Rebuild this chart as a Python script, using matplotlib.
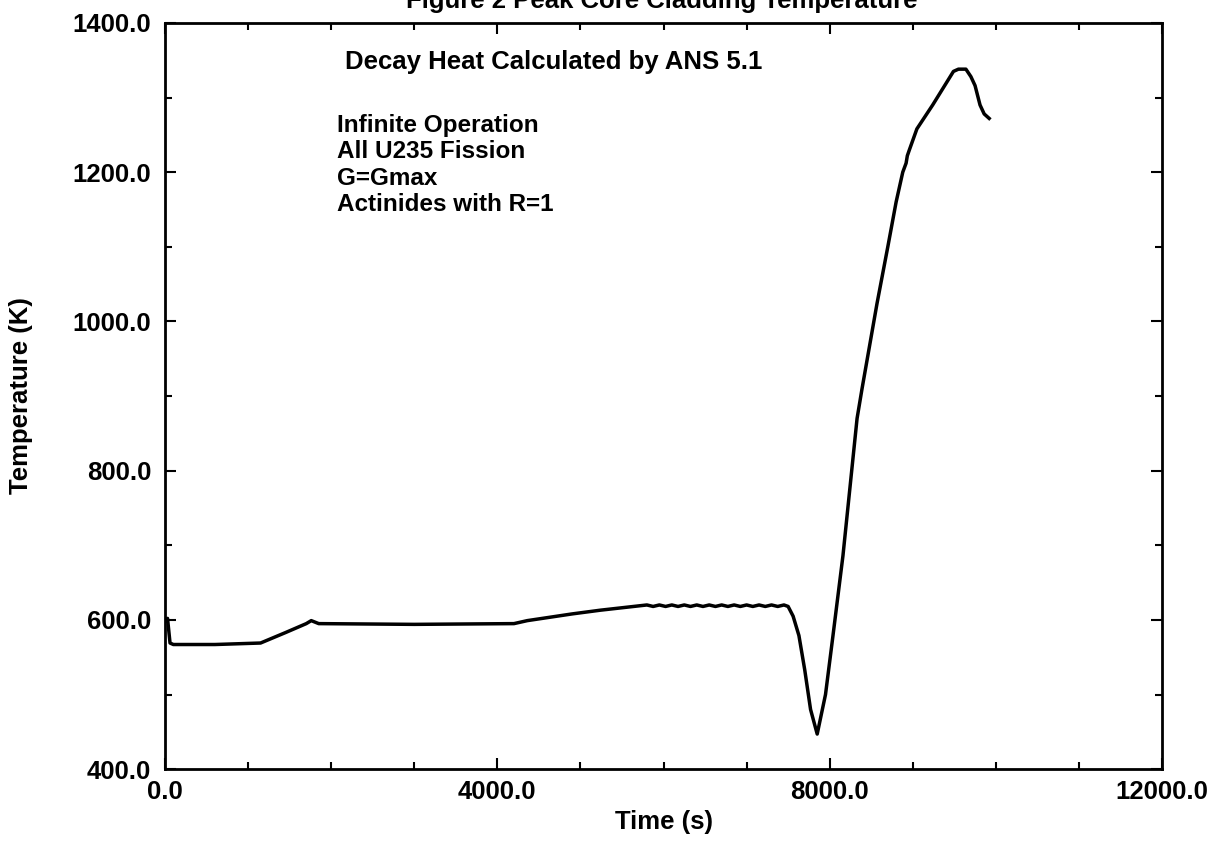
import matplotlib
matplotlib.use("Agg")
import matplotlib.pyplot as plt
from matplotlib.ticker import MultipleLocator, FormatStrFormatter

plt.rcParams["font.family"] = ["Liberation Sans", "DejaVu Sans"]

# Peak core cladding temperature
time_s = [0, 30, 60, 100, 600, 1150, 1450, 1700, 1760, 1850, 3000, 4200, 4360, 4900,
          5240, 5720,
          5800, 5875, 5950, 6025, 6100, 6175, 6250, 6325, 6400, 6475, 6550, 6625,
          6700, 6775, 6850, 6925, 7000, 7075, 7150, 7225, 7300, 7375, 7450,
          7500, 7560, 7630, 7700, 7770, 7850, 7950, 8040, 8160, 8330, 8390, 8570,
          8700, 8800, 8880, 8920, 8935, 8960, 9050, 9240, 9490, 9550, 9640, 9700,
          9750, 9810, 9860, 9920]
temp_k = [598, 602, 569, 567, 567, 569, 583, 595, 599, 595, 594, 595, 599, 608,
          613, 619,
          620, 618, 620, 618, 620, 618, 620, 618, 620, 618, 620, 618,
          620, 618, 620, 618, 620, 618, 620, 618, 620, 618, 620,
          618, 605, 579, 533, 480, 447, 500, 579, 686, 870, 910, 1024,
          1100, 1160, 1200, 1212, 1222, 1230, 1258, 1290, 1335, 1338, 1338, 1328,
          1316, 1290, 1278, 1272]

title = "Figure 2 Peak Core Cladding Temperature"
note_top = "Decay Heat Calculated by ANS 5.1"
note_lines = ["Infinite Operation", "All U235 Fission", "G=Gmax", "Actinides with R=1"]

fs = 18.5

fig = plt.figure(figsize=(12.18, 8.48), dpi=100)
ax = fig.add_axes([0.1355, 0.093, 0.8185, 0.880])

ax.plot(time_s, temp_k, color="black", lw=2.5, solid_joinstyle="round")

ax.set_xlim(0, 12000)
ax.set_ylim(400, 1400)
ax.xaxis.set_major_locator(MultipleLocator(4000))
ax.xaxis.set_minor_locator(MultipleLocator(1000))
ax.yaxis.set_major_locator(MultipleLocator(200))
ax.yaxis.set_minor_locator(MultipleLocator(100))
ax.xaxis.set_major_formatter(FormatStrFormatter("%.1f"))
ax.yaxis.set_major_formatter(FormatStrFormatter("%.1f"))

ax.tick_params(which="both", direction="in", top=True, right=True, width=1.5,
               labelsize=fs)
ax.tick_params(which="major", length=8)
ax.tick_params(which="minor", length=5)
ax.tick_params(axis="x", pad=8)
ax.tick_params(axis="y", pad=10)
for lbl in ax.get_xticklabels() + ax.get_yticklabels():
    lbl.set_fontweight("bold")
for sp in ax.spines.values():
    sp.set_linewidth(2)

ax.set_xlabel("Time (s)", fontsize=fs, fontweight="bold")
ax.set_ylabel("Temperature (K)", fontsize=fs, fontweight="bold")
ax.xaxis.set_label_coords(0.5, -0.055)
ax.yaxis.set_label_coords(-0.132, 0.5)

ax.text(0.1805, 0.948, note_top, transform=ax.transAxes, fontsize=fs,
        fontweight="bold", va="center")
for i, line in enumerate(note_lines):
    ax.text(0.172, 0.862 - i * 0.035, line, transform=ax.transAxes, fontsize=17.5,
            fontweight="bold", va="center")

fig.text(0.5435, 0.9905, title, ha="center", va="baseline", fontsize=fs,
         fontweight="bold")

fig.savefig("out.png", dpi=100)
